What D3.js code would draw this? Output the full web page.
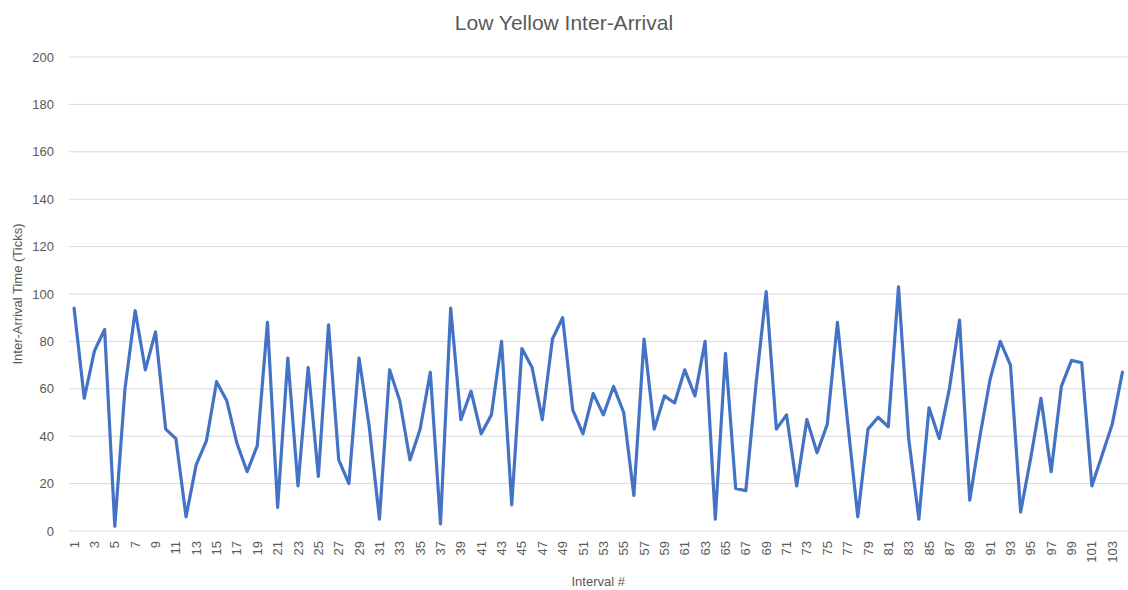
<!DOCTYPE html>
<html>
<head>
<meta charset="utf-8">
<script src="https://cdn.jsdelivr.net/npm/d3@7"></script>
<style>
  body { margin: 0; background: #fff; }
  text { font-family: "Liberation Sans", Arial, sans-serif; fill: #595959; }
</style>
</head>
<body>
<svg width="1128" height="590"></svg>
<script>
// Inter-arrival times per interval
const intervals = d3.range(1, 105);
const interArrival = [
  94, 56, 76, 85, 2, 60, 93, 68, 84, 43,
  39, 6, 28, 38, 63, 55, 37, 25, 36, 88,
  10, 73, 19, 69, 23, 87, 30, 20, 73, 44,
  5, 68, 55, 30, 43, 67, 3, 94, 47, 59,
  41, 49, 80, 11, 77, 69, 47, 81, 90, 51,
  41, 58, 49, 61, 50, 15, 81, 43, 57, 54,
  68, 57, 80, 5, 75, 18, 17, 62, 101, 43,
  49, 19, 47, 33, 45, 88, 46, 6, 43, 48,
  44, 103, 39, 5, 52, 39, 60, 89, 13, 40,
  64, 80, 70, 8, 31, 56, 25, 61, 72, 71,
  19, 32, 45, 67
];
const yTicks = [0, 20, 40, 60, 80, 100, 120, 140, 160, 180, 200];

const svg = d3.select('svg');
const plotLeft = 69, plotRight = 1127.5, plotTop = 57, plotBottom = 531;

const x = d3.scaleBand()
  .domain(intervals)
  .range([plotLeft, plotRight]);

const y = d3.scaleLinear()
  .domain([0, 200])
  .range([plotBottom, plotTop]);

// gridlines
svg.append('g')
  .selectAll('line')
  .data(yTicks)
  .join('line')
  .attr('x1', plotLeft).attr('x2', plotRight)
  .attr('y1', d => y(d)).attr('y2', d => y(d))
  .attr('stroke', '#d9d9d9')
  .attr('stroke-width', 1);

// y axis labels
const yAxis = svg.append('g')
  .attr('transform', `translate(${plotLeft},0)`)
  .call(d3.axisLeft(y).tickValues(yTicks).tickSize(0).tickPadding(15));
yAxis.select('.domain').remove();
yAxis.selectAll('text')
  .style('font-size', '13px')
  .attr('fill', '#595959');

// x axis with rotated labels, every other interval
const xAxis = svg.append('g')
  .attr('transform', `translate(0,${plotBottom})`)
  .call(d3.axisBottom(x).tickValues(intervals.filter(d => d % 2 === 1)).tickSize(0));
xAxis.select('.domain').remove();
xAxis.selectAll('text')
  .style('font-size', '13px')
  .attr('fill', '#595959')
  .attr('transform', 'rotate(-90)')
  .attr('text-anchor', 'end')
  .attr('x', -10)
  .attr('y', 0)
  .attr('dy', '0.35em');

// the series line
const line = d3.line()
  .x((d, i) => x(intervals[i]) + x.bandwidth() / 2)
  .y(d => y(d));

svg.append('path')
  .datum(interArrival)
  .attr('d', line)
  .attr('fill', 'none')
  .attr('stroke', '#4472c4')
  .attr('stroke-width', 3.2)
  .attr('stroke-linejoin', 'round')
  .attr('stroke-linecap', 'round');

// titles
svg.append('text')
  .attr('x', 564).attr('y', 30)
  .attr('text-anchor', 'middle')
  .style('font-size', '21px')
  .text('Low Yellow Inter-Arrival');

svg.append('text')
  .attr('x', (plotLeft + plotRight) / 2).attr('y', 586)
  .attr('text-anchor', 'middle')
  .style('font-size', '13px')
  .text('Interval #');

svg.append('text')
  .attr('transform', `translate(22,${(plotTop + plotBottom) / 2}) rotate(-90)`)
  .attr('text-anchor', 'middle')
  .style('font-size', '13px')
  .text('Inter-Arrival Time (Ticks)');
</script>
</body>
</html>
